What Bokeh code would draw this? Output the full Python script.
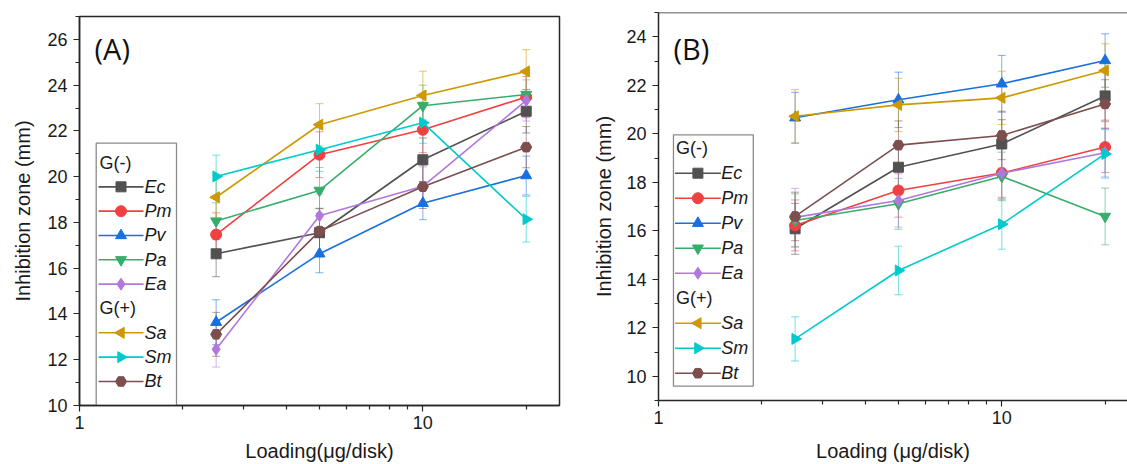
import math
from bokeh.plotting import figure
from bokeh.layouts import row
from bokeh.models import (ColumnDataSource, Whisker, TeeHead, Label, Span,
                          FixedTicker, SingleIntervalTicker, PrintfTickFormatter, Range1d)
from bokeh.embed import file_html
from bokeh.resources import INLINE

# ---------------- data ----------------
LOADING = [2.5, 5, 10, 20]
SERIES = ["Ec", "Pm", "Pv", "Pa", "Ea", "Sa", "Sm", "Bt"]
GROUP_NEG = "G(-)"
GROUP_POS = "G(+)"
X_TICKS = [1, 10]
X_MINOR = [2, 3, 4, 5, 6, 7, 8, 9, 20]

# Panel A means
A_EC = [16.63, 17.55, 20.74, 22.86]
A_PM = [17.47, 20.96, 22.05, 23.48]
A_PV = [13.64, 16.63, 18.84, 20.05]
A_PA = [18.06, 19.40, 23.10, 23.59]
A_EA = [12.46, 18.29, 19.58, 23.33]
A_SA = [19.10, 22.27, 23.55, 24.60]
A_SM = [20.01, 21.18, 22.36, 18.14]
A_BT = [13.11, 17.62, 19.56, 21.29]
# Panel A errors
A_EC_ERR = [1.00, 1.05, 0.95, 0.95]
A_PM_ERR = [0.95, 1.00, 1.00, 0.90]
A_PV_ERR = [0.98, 0.83, 0.72, 0.85]
A_PA_ERR = [0.80, 1.00, 0.90, 0.95]
A_EA_ERR = [0.78, 0.95, 0.85, 0.90]
A_SA_ERR = [0.95, 0.92, 1.06, 0.95]
A_SM_ERR = [0.93, 0.95, 0.90, 1.00]
A_BT_ERR = [0.96, 1.00, 0.95, 0.90]

# Panel B means
B_EC = [16.08, 18.62, 19.58, 21.56]
B_PM = [16.22, 17.66, 18.38, 19.45]
B_PV = [20.66, 21.40, 22.06, 23.02]
B_PA = [16.42, 17.11, 18.24, 16.59]
B_EA = [16.55, 17.25, 18.37, 19.22]
B_SA = [20.72, 21.19, 21.48, 22.61]
B_SM = [11.54, 14.36, 16.27, 19.17]
B_BT = [16.59, 19.53, 19.93, 21.23]
# Panel B errors
B_EC_ERR = [1.05, 1.00, 1.00, 1.00]
B_PM_ERR = [1.05, 1.10, 1.00, 1.05]
B_PV_ERR = [1.05, 1.14, 1.17, 1.10]
B_PA_ERR = [1.10, 1.05, 1.00, 1.17]
B_EA_ERR = [1.20, 1.10, 1.05, 1.00]
B_SA_ERR = [1.10, 1.10, 1.10, 1.10]
B_SM_ERR = [0.91, 1.00, 1.03, 1.00]
B_BT_ERR = [1.00, 1.00, 1.00, 1.00]

Y_RANGE_A = (10, 27)
Y_RANGE_B = (9, 25)

A_MEANS = [A_EC, A_PM, A_PV, A_PA, A_EA, A_SA, A_SM, A_BT]
A_ERRS = [A_EC_ERR, A_PM_ERR, A_PV_ERR, A_PA_ERR, A_EA_ERR, A_SA_ERR, A_SM_ERR, A_BT_ERR]
B_MEANS = [B_EC, B_PM, B_PV, B_PA, B_EA, B_SA, B_SM, B_BT]
B_ERRS = [B_EC_ERR, B_PM_ERR, B_PV_ERR, B_PA_ERR, B_EA_ERR, B_SA_ERR, B_SM_ERR, B_BT_ERR]

# ---------------- styles ----------------
COLORS = ["#515151", "#F14040", "#1A6FDF", "#37AD6B", "#B177DE", "#CC9900", "#00CBCC", "#7D4E4E"]
MARKERS = ["square", "circle", "triangle", "inverted_triangle", "diamond", "triangle", "triangle", "hex"]
ANGLES = [0, 0, 0, 0, 0, math.pi / 2, -math.pi / 2, 0]
SIZES = [10, 11, 11, 11, 12, 11, 11, 11]
AX = "#262626"
TXT = "#1a1a1a"
FONT = "Liberation Sans"
H = 464


def make_panel(width, bl, br, bt, bb, fw, x_end, yr, means, errs, xlabel, tag,
               leg_box, leg_row0, leg_pitch, leg_line, leg_text_x, head_x,
               tick_standoff, label_standoff, x_label_standoff, full_outline):
    fh = H - bt - bb
    p = figure(width=width, height=H, x_axis_type="log",
               x_range=Range1d(1, x_end), y_range=Range1d(*yr),
               output_backend="svg", toolbar_location=None,
               min_border_left=bl, min_border_right=br, min_border_top=bt, min_border_bottom=bb,
               background_fill_color="white", border_fill_color="white")
    p.frame_align = False
    p.xgrid.visible = False
    p.ygrid.visible = False
    if full_outline:
        p.outline_line_color = AX
        p.outline_line_width = 1.5
        p.outline_line_alpha = 1
    else:
        p.outline_line_color = None
        p.add_layout(Span(location=yr[1], dimension="width", line_color=AX, line_width=1.5))

    # pixel (relative to frame top-left, y down) -> data
    lx = math.log10(x_end)

    def dx(px):
        return 10 ** (px / fw * lx)

    def dy(py):
        return yr[0] + (fh - py) / fh * (yr[1] - yr[0])

    p.xaxis.ticker = FixedTicker(ticks=X_TICKS, minor_ticks=X_MINOR)
    p.xaxis.formatter = PrintfTickFormatter(format="%d")
    p.yaxis.ticker = SingleIntervalTicker(interval=2, num_minor_ticks=2)
    for ax in (p.xaxis[0], p.yaxis[0]):
        ax.axis_line_color = AX
        ax.axis_line_width = 1.5
        ax.major_tick_line_color = AX
        ax.minor_tick_line_color = AX
        ax.major_tick_line_width = 1.2
        ax.minor_tick_line_width = 1.2
        ax.major_tick_in = 0
        ax.minor_tick_in = 0
        ax.major_tick_out = 6
        ax.minor_tick_out = 4
        ax.major_label_text_font = FONT
        ax.major_label_text_font_size = "18px"
        ax.major_label_text_color = TXT
        ax.axis_label_text_font = FONT
        ax.axis_label_text_font_size = "20px"
        ax.axis_label_text_font_style = "normal"
        ax.axis_label_text_color = TXT
    p.xaxis.axis_label = xlabel
    p.xaxis.major_label_standoff = 4
    p.xaxis.axis_label_standoff = x_label_standoff
    p.yaxis.axis_label = "Inhibition zone (mm)"
    p.yaxis.major_label_standoff = tick_standoff
    p.yaxis.axis_label_standoff = label_standoff

    for name, m, e, c, mk, ang, sz in zip(SERIES, means, errs, COLORS, MARKERS, ANGLES, SIZES):
        src = ColumnDataSource(dict(x=LOADING, y=m,
                                    upper=[a + b for a, b in zip(m, e)],
                                    lower=[a - b for a, b in zip(m, e)]))
        w = Whisker(source=src, base="x", upper="upper", lower="lower", dimension="height",
                    line_color=c, line_alpha=0.55, line_width=1,
                    upper_head=TeeHead(size=8, line_color=c, line_alpha=0.55, line_width=1),
                    lower_head=TeeHead(size=8, line_color=c, line_alpha=0.55, line_width=1))
        w.level = "underlay"
        p.add_layout(w)
        p.line("x", "y", source=src, line_color=c, line_width=1.6)
        p.scatter("x", "y", source=src, marker=mk, angle=ang, size=sz,
                  fill_color=c, line_color=c)

    # ---- legend (drawn by hand so rotated triangles and group headers show) ----
    l, r, t, b = leg_box
    p.quad(left=[dx(l)], right=[dx(r)], top=[dy(t)], bottom=[dy(b)],
           fill_color="white", line_color="#8a8a8a", line_width=1.3)
    row_idx = 0
    for i, (name, c, mk, ang, sz) in enumerate(zip(SERIES, COLORS, MARKERS, ANGLES, SIZES)):
        if i == 0 or i == 5:
            yc = leg_row0 + row_idx * leg_pitch
            p.add_layout(Label(x=dx(head_x), y=dy(yc), text=GROUP_NEG if i == 0 else GROUP_POS,
                               text_baseline="middle", text_font=FONT, text_font_size="18px",
                               text_color=TXT))
            row_idx += 1
        yc = dy(leg_row0 + row_idx * leg_pitch)
        p.line([dx(leg_line[0]), dx(leg_line[1])], [yc, yc], line_color=c, line_width=1.6)
        p.scatter([dx((leg_line[0] + leg_line[1]) / 2)], [yc], marker=mk, angle=ang, size=sz,
                  fill_color=c, line_color=c)
        p.add_layout(Label(x=dx(leg_text_x), y=yc, text=name, text_baseline="middle",
                           text_font=FONT, text_font_style="italic", text_font_size="18px",
                           text_color=TXT))
        row_idx += 1

    p.add_layout(Label(x=15, y=fh - (48 - bt), x_units="screen", y_units="screen",
                       text=tag, text_baseline="middle", text_font="Open Sans",
                       text_font_size="29px", text_color="#111111"))
    return p


# Panel A: frame at x 79..559, y 16..405 of the page
pA = make_panel(590, 79, 31, 16, 59, 480, 25, Y_RANGE_A, A_MEANS, A_ERRS,
                "Loading(\u03bcg/disk)", "(A)",
                leg_box=(16.7, 97, 126.7, 389), leg_row0=146, leg_pitch=24.33,
                leg_line=(19, 64), leg_text_x=65, head_x=20,
                tick_standoff=6, label_standoff=10, x_label_standoff=8, full_outline=True)
# Panel B: frame at x 657..1127, y 12..400 of the page
pB = make_panel(537, 67, 0, 12, 64, 470, 10 ** (470 / 344), Y_RANGE_B, B_MEANS, B_ERRS,
                "Loading (\u03bcg/disk)", "(B)",
                leg_box=(15, 95, 122.3, 373.7), leg_row0=135.7, leg_pitch=25,
                leg_line=(16.5, 62.5), leg_text_x=63, head_x=17.5,
                tick_standoff=6, label_standoff=8, x_label_standoff=13, full_outline=False)

layout = row(pA, pB, spacing=0)
open("out.html", "w").write(file_html(layout, INLINE))
